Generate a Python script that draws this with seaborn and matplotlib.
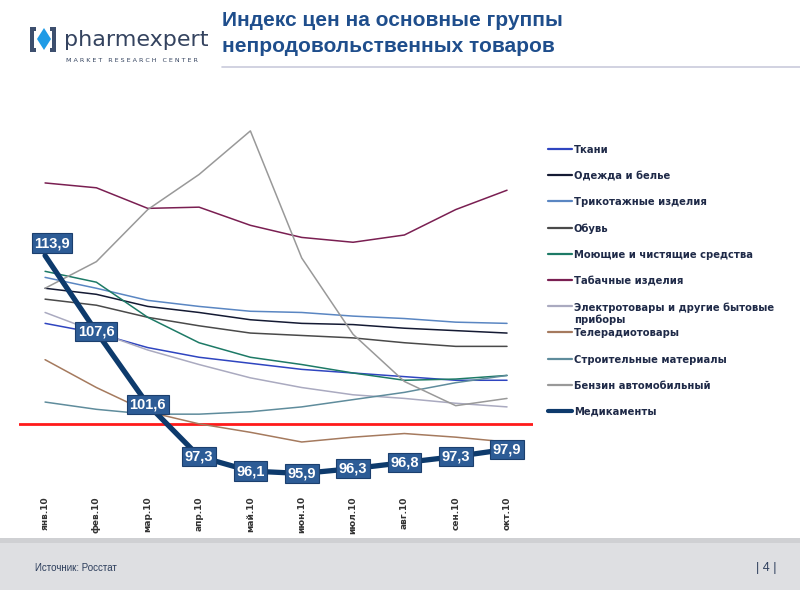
import matplotlib
matplotlib.use('Agg')
import matplotlib.pyplot as plt
from matplotlib.lines import Line2D
from matplotlib.patches import Polygon, Rectangle
import numpy as np
import pandas as pd
import seaborn as sns

MONTHS = ['янв.10', 'фев.10', 'мар.10', 'апр.10', 'май.10',
          'июн.10', 'июл.10', 'авг.10', 'сен.10', 'окт.10']

TKANI = [108.3, 107.5, 106.3, 105.5, 105.0, 104.5, 104.2, 103.9, 103.6, 103.6]
ODEZHDA = [111.2, 110.7, 109.7, 109.2, 108.6, 108.3, 108.2, 107.9, 107.7, 107.5]
TRIKOTAZH = [112.1, 111.2, 110.2, 109.7, 109.3, 109.2, 108.9, 108.7, 108.4, 108.3]
OBUV = [110.3, 109.8, 108.8, 108.1, 107.5, 107.3, 107.1, 106.7, 106.4, 106.4]
MOYUSHCHIE = [112.6, 111.7, 108.8, 106.7, 105.5, 104.9, 104.2, 103.6, 103.7, 104.0]
TABAK = [119.9, 119.5, 117.8, 117.9, 116.4, 115.4, 115.0, 115.6, 117.7, 119.3]
ELEKTRO = [109.2, 107.6, 106.1, 104.9, 103.8, 103.0, 102.4, 102.1, 101.7, 101.4]
TELERADIO = [105.3, 103.0, 101.0, 100.0, 99.3, 98.5, 98.9, 99.2, 98.9, 98.5]
STROIT = [101.8, 101.2, 100.8, 100.8, 101.0, 101.4, 102.0, 102.6, 103.4, 104.0]
BENZIN = [111.2, 113.4, 117.7, 120.6, 124.2, 113.7, 107.4, 103.5, 101.5, 102.1]
MEDIKAMENTY = [113.9, 107.6, 101.6, 97.3, 96.1, 95.9, 96.3, 96.8, 97.3, 97.9]

SERIES = [
    ('Ткани', TKANI, '#2f45c0'),
    ('Одежда и белье', ODEZHDA, '#141a33'),
    ('Трикотажные изделия', TRIKOTAZH, '#5a86c2'),
    ('Обувь', OBUV, '#4a4a4a'),
    ('Моющие и чистящие средства', MOYUSHCHIE, '#1d7a66'),
    ('Табачные изделия', TABAK, '#7a1f52'),
    ('Электротовары и другие бытовые\nприборы', ELEKTRO, '#aaaac0'),
    ('Телерадиотовары', TELERADIO, '#a57a5e'),
    ('Строительные материалы', STROIT, '#5f8c9c'),
    ('Бензин автомобильный', BENZIN, '#999999'),
    ('Медикаменты', MEDIKAMENTY, '#0d3a6c'),
]

W, H = 800, 600


def fx(x):
    return x / W


def fy(y):
    return 1 - y / H


rows = []
for name, values, _ in SERIES:
    for m, v in zip(MONTHS, values):
        rows.append({'month': m, 'value': v, 'series': name})
df = pd.DataFrame(rows)

palette = {name: color for name, _, color in SERIES}
sizes = {name: (3.8 if name == 'Медикаменты' else 1.1) for name, _, _ in SERIES}

sns.set_style('white')
plt.rcParams['font.family'] = ['DejaVu Sans']

fig = plt.figure(figsize=(8, 6), dpi=100)
ax = fig.add_axes([fx(19.4), fy(488), fx(532.7 - 19.4), (488 - 120) / H])

ax.axhline(100, color='#ff1a1a', lw=2, zorder=1)

sns.lineplot(data=df, x='month', y='value', hue='series', size='series',
             palette=palette, sizes=sizes, legend=False, sort=False, ax=ax)

# data labels for Медикаменты
for i, v in enumerate(MEDIKAMENTY):
    offset = (5, 9) if i == 0 else (0, 0)
    ax.annotate(f'{v:.1f}'.replace('.', ','), (i, v), xytext=offset,
                textcoords='offset points', ha='center', va='center',
                color='white', fontsize=10.5, fontweight='bold',
                family='Liberation Sans', zorder=5,
                bbox=dict(boxstyle='square,pad=0.18', fc='#2d5c96',
                          ec='#1b3f6e', lw=0.8))

ax.set_xlim(-0.5, 9.5)
ax.set_ylim(94.7, 125.1)
ax.set_xticks(range(len(MONTHS)))
ax.set_xticklabels(MONTHS, rotation=90, fontsize=6.5, fontweight='bold',
                   color='#333333')
ax.tick_params(axis='x', length=0, pad=6)
ax.set_yticks([])
ax.set_xlabel('')
ax.set_ylabel('')
for s in ax.spines.values():
    s.set_visible(False)

# legend drawn at fixed rows on the right
for i, (name, _, color) in enumerate(SERIES):
    y = 149 + 26.2 * i
    lw = 3 if name == 'Медикаменты' else 1.6
    fig.add_artist(Line2D([fx(548), fx(572)], [fy(y), fy(y)],
                          color=color, lw=lw))
    fig.text(fx(574), fy(y - 4), name, fontsize=7.2, fontweight='bold',
             color='#1f2a48', va='top', ha='left', linespacing=1.25)

# header
fig.text(fx(222), fy(20), 'Индекс цен на основные группы',
         fontsize=15, fontweight='bold', color='#1f4e8c',
         family='Liberation Sans', va='center', ha='left')
fig.text(fx(222), fy(47), 'непродовольственных товаров',
         fontsize=15, fontweight='bold', color='#1f4e8c',
         family='Liberation Sans', va='center', ha='left')
fig.add_artist(Line2D([fx(222), fx(800)], [fy(67), fy(67)],
                      color='#c9cbdc', lw=1.2))

# logo
def poly(points, **kw):
    fig.add_artist(Polygon([(fx(x), fy(y)) for x, y in points], closed=True,
                           transform=fig.transFigure, **kw))

poly([(30, 27), (36, 27), (36, 31), (34, 31), (34, 48), (36, 48),
      (36, 52), (30, 52)], fc='#3d4f6e', ec='none')
poly([(50, 27), (56, 27), (56, 52), (50, 52), (50, 48), (52, 48),
      (52, 31), (50, 31)], fc='#3d4f6e', ec='none')
poly([(44, 28), (51, 39), (44, 50), (37, 39)], fc='#1f9be6', ec='none')
fig.text(fx(64), fy(40), 'pharmexpert', fontsize=16, color='#34435f',
         va='center', ha='left')
fig.text(fx(66), fy(60), 'M A R K E T   R E S E A R C H   C E N T E R',
         fontsize=4.6, color='#34435f', va='center', ha='left')

# footer band
fig.add_artist(Rectangle((0, fy(590)), 1, (590 - 538) / H,
                         transform=fig.transFigure, fc='#dedfe2', ec='none',
                         zorder=0))
fig.add_artist(Rectangle((0, fy(543)), 1, 5 / H,
                         transform=fig.transFigure, fc='#cfd0d3', ec='none',
                         zorder=0))
fig.text(fx(35), fy(568), 'Источник: Росстат', fontsize=7,
         color='#2d3e5c', va='center', ha='left', family='Liberation Sans')
fig.text(fx(776), fy(568), '| 4 |', fontsize=9, color='#2d3e5c',
         va='center', ha='right', family='Liberation Sans')

fig.savefig('out.png', dpi=100)
